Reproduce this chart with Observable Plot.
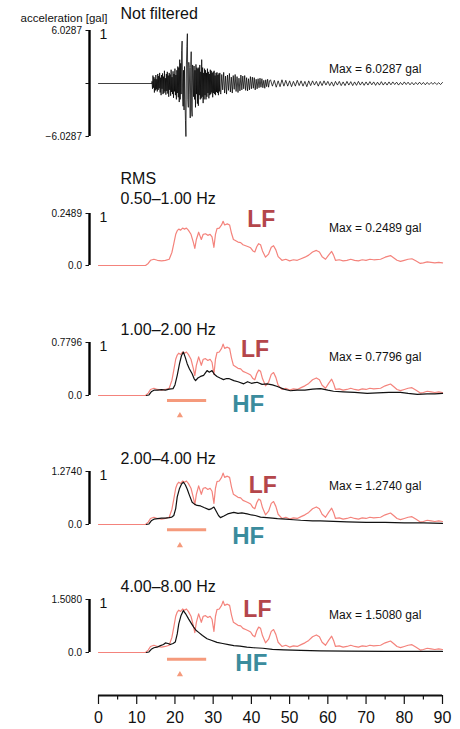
<!DOCTYPE html>
<html><head><meta charset="utf-8">
<script src="https://cdn.jsdelivr.net/npm/d3@7"></script>
<script src="https://cdn.jsdelivr.net/npm/@observablehq/plot@0.6"></script>
<style>
body{margin:0;background:#fff}
#chart{position:relative;width:460px;height:729px;overflow:hidden;font-family:"Liberation Sans",Arial,Helvetica,sans-serif}
</style>
</head><body><div id="chart"></div>
<script>
// ---------- data ----------
const xTicks = [0, 10, 20, 30, 40, 50, 60, 70, 80, 90];
const xMinorTicks = [5, 15, 25, 35, 45, 55, 65, 75, 85];
const bandLabels = ["Not filtered", "0.50\u20131.00 Hz", "1.00\u20132.00 Hz", "2.00\u20134.00 Hz", "4.00\u20138.00 Hz"];
const maxValues = ["6.0287", "0.2489", "0.7796", "1.2740", "1.5080"];
const zeroLabels = ["", "0.0", "0.0", "0.0", "0.0"];

// raw (normalised) acceleration: before the event, then sampled stretches
const rawPre = [[0, 0], [14, 0]];
const rawAStart = 14, rawAStep = 0.125;
const rawA = [
  0.04,-0.10,0.15,-0.08,0.12,-0.17,0.09,-0.13,
  0.16,-0.11,0.08,-0.15,0.18,-0.12,0.14,-0.09,
  0.20,-0.17,0.11,-0.22,0.16,-0.10,0.19,-0.20,
  0.13,-0.18,0.24,-0.15,0.10,-0.21,0.18,-0.14,
  0.22,-0.19,0.15,-0.25,0.20,-0.12,0.17,-0.23,
  0.26,-0.16,0.12,-0.20,0.23,-0.27,0.18,-0.15,
  0.28,-0.22,0.16,-0.30,0.25,-0.18,0.32,-0.26,
  0.30,-0.35,0.45,-0.30,0.38,-0.20,0.62,0.80,
  -0.20,-0.43,0.25,-0.50,0.32,-0.30,-0.70,-1.00,
  0.35,0.70,0.94,-0.30,-0.45,0.40,0.30,-0.20,
  -0.65,0.30,0.60,-0.50,-0.62,0.35,0.20,-0.25,
  0.33,-0.30,0.25,-0.45,0.36,-0.20,0.30,-0.38,
  0.28,-0.42,0.30,-0.22,0.35,-0.30,0.22,-0.28,
  0.45,-0.25,0.30,-0.37,0.20,-0.30,0.28,-0.22,
  0.25,-0.30,0.20,-0.25,0.28,-0.18,0.22,-0.28,
  0.18,-0.22,0.26,-0.20,0.24,-0.17,0.20,-0.26,
  0.22,-0.18,0.24,-0.20,0.15,-0.22,0.20,-0.16,
  0.21,-0.18,0.16,-0.22,0.19,-0.15,0.20,-0.17
];
const rawBStart = 32, rawBStep = 0.25;
const rawB = [
  -0.20,0.17,-0.12,0.21,-0.18,0.14,-0.20,0.16,
  -0.13,0.19,-0.16,0.12,-0.18,0.15,-0.11,0.17,
  -0.15,0.13,-0.17,0.10,-0.14,0.16,-0.12,0.14,
  -0.10,0.15,-0.13,0.11,-0.14,0.09,-0.12,0.13,
  -0.10,0.12,-0.09,0.11,-0.12,0.08,-0.10,0.09,
  -0.08,0.10,-0.07,0.09,-0.08,0.06,-0.09,0.07,
  -0.06,0.08,-0.07,0.05
];
const rawCStart = 45, rawCStep = 0.5;
const rawC = [
  0.07,-0.05,0.06,-0.07,0.05,-0.06,0.07,-0.05,0.06,-0.05,
  0.05,-0.06,0.04,-0.05,0.06,-0.04,0.05,-0.05,0.04,-0.06,
  0.05,-0.04,0.05,-0.03,0.04,-0.05,0.04,-0.04,0.05,-0.03,
  0.04,-0.04,0.03,-0.05,0.04,-0.03,0.04,-0.04,0.03,-0.04,
  0.04,-0.03,0.035,-0.04,0.03,-0.035,0.04,-0.03,0.03,-0.035,
  0.03,-0.03,0.035,-0.025,0.03,-0.035,0.025,-0.03,0.035,-0.03,
  0.025,-0.03,0.03,-0.025,0.03,-0.02,0.025,-0.03,0.02,-0.025,
  0.03,-0.02,0.025,-0.025,0.02,-0.025,0.02,-0.02,0.025,-0.02,
  0.02,-0.025,0.02,-0.02,0.02,-0.015,0.02,-0.02,0.015,-0.02,
  0.02
];

// LF RMS envelope (0.50-1.00 Hz), normalised [time s, value]
const lfRms = [
  [0,0],[12.3,0],[13.0,0.04],[13.6,0.10],[14.5,0.12],[15.4,0.10],[16.5,0.09],[17.5,0.10],[18.5,0.12],
  [19.2,0.25],[19.7,0.42],[20.2,0.60],[20.6,0.67],[21.0,0.70],[21.5,0.68],[22.0,0.72],[22.5,0.70],
  [23.0,0.72],[23.5,0.68],[24.2,0.60],[24.8,0.45],[25.2,0.33],[25.6,0.50],[26.2,0.64],[26.6,0.56],
  [26.9,0.50],[27.4,0.60],[28.0,0.61],[28.6,0.58],[29.2,0.60],[29.7,0.55],[30.2,0.35],[30.6,0.60],
  [31.0,0.71],[31.6,0.72],[32.2,0.78],[32.6,0.85],[33.0,0.78],[33.7,0.80],[34.3,0.78],[34.8,0.62],
  [35.3,0.50],[35.8,0.48],[36.5,0.45],[37.2,0.44],[37.8,0.40],[38.5,0.38],[39.2,0.36],[39.8,0.34],
  [40.4,0.28],[40.9,0.26],[41.4,0.36],[41.9,0.42],[42.4,0.40],[42.9,0.28],[43.7,0.16],[44.5,0.22],
  [45.2,0.35],[45.8,0.38],[46.4,0.30],[47.0,0.17],[48.0,0.10],[49.0,0.12],[50.0,0.09],[51.0,0.11],
  [52.0,0.10],[53.0,0.13],[54.0,0.16],[55.0,0.20],[56.0,0.26],[57.0,0.29],[57.8,0.26],[58.5,0.17],
  [59.4,0.12],[60.2,0.20],[61.0,0.27],[61.5,0.20],[62.0,0.10],[63.0,0.11],[64.0,0.09],[65.0,0.10],
  [66.0,0.12],[67.0,0.10],[68.0,0.09],[69.0,0.11],[70.0,0.10],[71.0,0.12],[72.0,0.11],[73.8,0.12],
  [75.0,0.16],[76.4,0.19],[77.2,0.15],[78.1,0.10],[79.0,0.08],[80.0,0.10],[81.0,0.12],[82.0,0.13],
  [83.0,0.09],[84.2,0.04],[85.0,0.05],[86.0,0.07],[87.0,0.06],[88.0,0.05],[89.0,0.06],[90.0,0.05]
];
const lfOverlayScale = 1.14; // LF curve as overlaid in the HF panels

const hf12 = [
  [12.5,0],[13.2,0.01],[13.8,0.07],[14.5,0.10],[15.5,0.10],[16.5,0.11],[17.5,0.10],[18.5,0.12],[19.5,0.13],
  [20.0,0.20],[20.6,0.38],[21.2,0.60],[21.7,0.75],[22.2,0.82],[22.7,0.72],[23.2,0.60],[23.8,0.50],
  [24.5,0.41],[25.0,0.32],[25.4,0.28],[26.0,0.33],[26.7,0.36],[27.5,0.38],[28.4,0.47],[29.0,0.44],
  [29.7,0.47],[30.3,0.40],[31.0,0.36],[31.8,0.33],[32.7,0.30],[33.5,0.32],[34.1,0.32],[35.4,0.28],
  [36.5,0.26],[38.0,0.22],[39.0,0.26],[40.0,0.23],[41.5,0.25],[42.8,0.21],[44.1,0.22],[45.5,0.20],
  [46.8,0.17],[48.5,0.12],[50.2,0.09],[52.0,0.10],[54.0,0.10],[56.0,0.12],[58.1,0.13],[60.0,0.10],
  [61.5,0.08],[64.0,0.07],[67.0,0.06],[70.3,0.04],[73.0,0.05],[76.0,0.06],[79.0,0.06],[81.0,0.04],
  [83.4,0.02],[86.0,0.03],[88.0,0.03],[90.0,0.04]
];
const hf24 = [
  [12.5,0],[13.2,0.01],[13.8,0.07],[14.5,0.10],[15.5,0.11],[16.5,0.12],[17.5,0.12],[18.5,0.13],[19.2,0.14],
  [19.7,0.17],[20.2,0.30],[20.6,0.52],[21.2,0.68],[21.7,0.76],[22.2,0.80],[22.7,0.75],[23.2,0.67],
  [23.8,0.55],[24.5,0.42],[25.2,0.38],[25.8,0.36],[26.7,0.35],[27.6,0.32],[28.9,0.28],[29.6,0.30],
  [30.2,0.33],[30.8,0.25],[31.4,0.17],[31.9,0.13],[32.8,0.16],[33.8,0.20],[35.4,0.23],[36.5,0.21],
  [37.5,0.22],[38.9,0.20],[40.0,0.18],[41.0,0.17],[42.4,0.14],[44.0,0.13],[45.5,0.12],[46.8,0.11],
  [49.0,0.10],[51.0,0.09],[52.9,0.08],[56.0,0.07],[58.0,0.07],[61.5,0.06],[65.0,0.05],[70.0,0.04],
  [75.0,0.04],[80.0,0.03],[85.0,0.03],[90.0,0.02]
];
const hf48 = [
  [12.5,0],[13.2,0.01],[13.8,0.06],[14.5,0.09],[15.3,0.10],[16.2,0.13],[17.0,0.15],[17.5,0.18],[18.2,0.17],
  [18.8,0.15],[19.5,0.17],[20.1,0.20],[20.6,0.35],[21.0,0.54],[21.6,0.70],[22.2,0.79],[22.8,0.73],
  [23.6,0.63],[24.2,0.56],[24.9,0.48],[25.5,0.42],[26.2,0.38],[27.2,0.32],[28.4,0.26],[29.5,0.23],
  [31.0,0.19],[32.5,0.17],[34.0,0.15],[35.4,0.13],[37.0,0.12],[38.8,0.10],[40.6,0.09],[43.0,0.08],
  [45.5,0.06],[48.5,0.05],[52.9,0.04],[58.0,0.03],[65.0,0.025],[75.0,0.02],[85.0,0.02],[90.0,0.02]
];
const windowSpan = [18.05, 28.3];
const arrivalTime = [21.3];

// ---------- drawing ----------
const chart = document.getElementById("chart");
const FONT = '"Liberation Sans", Arial, Helvetica, sans-serif';
const LF_LINE = "#f4837c", LF_TEXT = "#b4464b", HF_TEXT = "#3b8c9d", WIN = "#f59a7c";

const rawData = [
  ...rawPre.map(([t, v]) => ({t, v})),
  ...rawA.map((v, i) => ({t: rawAStart + i * rawAStep, v})),
  ...rawB.map((v, i) => ({t: rawBStart + i * rawBStep, v})),
  ...rawC.map((v, i) => ({t: rawCStart + i * rawCStep, v}))
];
const toObj = arr => arr.map(([t, v]) => ({t, v}));
const lfData = toObj(lfRms);
const lfOverlay = lfRms.map(([t, v]) => ({t, v: v * lfOverlayScale}));

function mount(svg, top) {
  svg.style.position = "absolute";
  svg.style.left = "0px";
  svg.style.top = top + "px";
  chart.appendChild(svg);
}

function panel(p) {
  const svg = Plot.plot({
    width: 460, height: p.E - p.S,
    marginLeft: 98, marginRight: 18,
    marginTop: p.T - p.S, marginBottom: p.E - p.B,
    x: {domain: [0, 90], axis: null},
    y: {domain: p.domain, label: null},
    style: {background: "transparent", overflow: "visible", fontFamily: FONT},
    marks: p.marks
  });
  mount(svg, p.S);
}

function scaleBar(domain, ticks, fmt, fs) {
  return [
    Plot.ruleX([0], {y1: domain[0], y2: domain[1], dx: -9, stroke: "black", strokeWidth: 2.4}),
    Plot.axisY(ticks, {tickSize: 3.5, tickPadding: 4, dx: -9, tickFormat: fmt, fontSize: fs, color: "#111", label: null}),
    Plot.text(["1"], {x: 0, y: domain[1], dx: 1, dy: -1, textAnchor: "start", lineAnchor: "top", fontSize: 14, fill: "#111"})
  ];
}
const maxText = (i, y) => Plot.text([`Max = ${maxValues[i]} gal`], {x: 60.3, y, textAnchor: "start", lineAnchor: "middle", fontSize: 12, fill: "#111"});
const bandText = (i, y) => Plot.text([bandLabels[i]], {x: 5.76, y, textAnchor: "start", lineAnchor: "middle", fontSize: 16, fill: "#111"});
const lfText = (x, y) => Plot.text(["LF"], {x, y, textAnchor: "start", lineAnchor: "middle", fontSize: 23, fontWeight: "bold", fill: LF_TEXT});
const hfText = (x, dy) => Plot.text(["HF"], {x, y: 0, dy, textAnchor: "start", lineAnchor: "middle", fontSize: 24, fontWeight: "bold", fill: HF_TEXT});
const windowMarks = (barDy, triDy) => [
  Plot.ruleY([0], {x1: windowSpan[0], x2: windowSpan[1], dy: barDy, stroke: WIN, strokeWidth: 3}),
  Plot.dot(arrivalTime, {x: d => d, y: 0, dy: triDy, symbol: "triangle", r: 2.3, fill: WIN, stroke: "none"})
];

// Panel 1: not filtered
panel({S: 0, E: 155, T: 30, B: 136, domain: [-1, 1], marks: [
  ...scaleBar([-1, 1], [-1, 0, 1], d => ({"1": maxValues[0], "0": "", "-1": "\u2212" + maxValues[0]})[d], 10),
  Plot.text(["acceleration [gal]"], {x: 0, y: 1, dx: 9, dy: -11.7, textAnchor: "end", lineAnchor: "middle", fontSize: 11.5, fill: "#111"}),
  bandText(0, 1.315),
  Plot.line(rawData, {x: "t", y: "v", stroke: "black", strokeWidth: 0.75}),
  maxText(0, 0.277)
]});

// Panel 2: RMS 0.50-1.00 Hz
panel({S: 155, E: 300, T: 213, B: 265, domain: [0, 1], marks: [
  ...scaleBar([0, 1], [0, 1], d => d === 1 ? maxValues[1] : zeroLabels[1], 10),
  Plot.text(["RMS"], {x: 5.76, y: 1.67, textAnchor: "start", lineAnchor: "middle", fontSize: 16, fill: "#111"}),
  bandText(1, 1.29),
  Plot.line(lfData, {x: "t", y: "v", stroke: LF_LINE, strokeWidth: 1.2}),
  lfText(38.9, 0.885),
  maxText(1, 0.72)
]});

const hfPanels = [
  {i: 2, S: 300, E: 430, T: 342, B: 395, data: hf12, band: 1.24, lfx: 37.3, lfy: 0.86, maxy: 0.72, hfx: 35.0, hfdy: 9, bar: 5, tri: 20},
  {i: 3, S: 430, E: 560, T: 471, B: 524, data: hf24, band: 1.24, lfx: 39.3, lfy: 0.74, maxy: 0.72, hfx: 35.0, hfdy: 12, bar: 5.3, tri: 21},
  {i: 4, S: 560, E: 686, T: 599, B: 652, data: hf48, band: 1.23, lfx: 37.9, lfy: 0.80, maxy: 0.71, hfx: 35.8, hfdy: 10.7, bar: 6.7, tri: 22}
];
for (const h of hfPanels) {
  panel({S: h.S, E: h.E, T: h.T, B: h.B, domain: [0, 1], marks: [
    ...scaleBar([0, 1], [0, 1], d => d === 1 ? maxValues[h.i] : zeroLabels[h.i], 10),
    bandText(h.i, h.band),
    Plot.line(lfOverlay, {x: "t", y: "v", stroke: LF_LINE, strokeWidth: 1.2}),
    Plot.line(toObj(h.data), {x: "t", y: "v", stroke: "#111", strokeWidth: 1.2}),
    lfText(h.lfx, h.lfy),
    hfText(h.hfx, h.hfdy),
    maxText(h.i, h.maxy),
    ...windowMarks(h.bar, h.tri)
  ]});
}

// Time axis
const axisSvg = Plot.plot({
  width: 460, height: 54,
  marginLeft: 98, marginRight: 18, marginTop: 10, marginBottom: 34,
  x: {domain: [0, 90], label: null},
  y: {domain: [0, 1], axis: null},
  style: {background: "transparent", overflow: "visible", fontFamily: FONT},
  marks: [
    Plot.ruleY([0], {stroke: "#111", strokeWidth: 1.8}),
    Plot.axisX(xTicks, {anchor: "bottom", tickSize: 9, tickPadding: 7, fontSize: 16, color: "#111", strokeWidth: 1.2, label: null}),
    Plot.axisX(xMinorTicks, {anchor: "bottom", tickSize: 4.5, tickFormat: () => "", color: "#111", strokeWidth: 1.2, label: null})
  ]
});
mount(axisSvg, 675);
</script></body></html>
